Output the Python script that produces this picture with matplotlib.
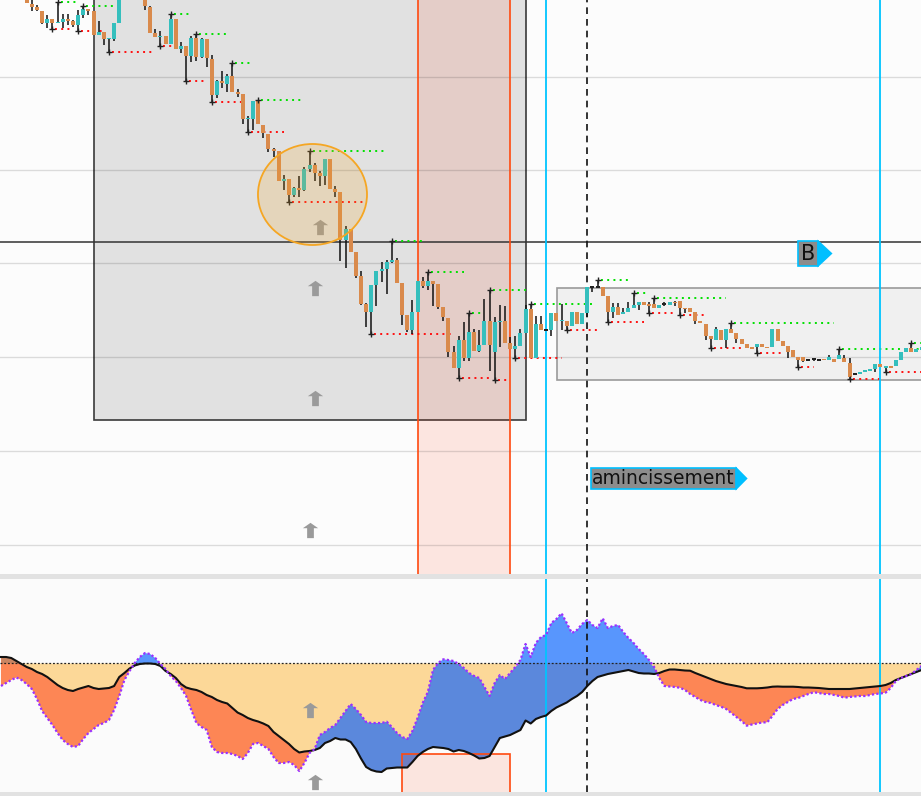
import numpy as np
import matplotlib.pyplot as plt
from matplotlib.patches import Rectangle, Ellipse, Polygon
from matplotlib.path import Path
from matplotlib.transforms import IdentityTransform

# candles, one per bar (bar 0 is the first fully visible one on the left)
open_ = [603, 596.5, 593, 589, 577, 581, 577, 578, 581, 579,
         575, 585, 591, 589, 565, 568, 561, 561, 577, 610,
         630, 640, 630, 608, 593, 567, 563, 564, 556, 581,
         551, 554, 544, 562, 543, 561, 541, 505, 519, 516,
         524, 508, 506, 481, 481, 500, 475, 466, 451, 449,
         419, 421, 405, 412, 410, 431, 435, 427, 424, 441,
         411, 408, 360, 371, 348, 324, 296, 288, 315, 329,
         331, 338, 340, 317, 285, 270, 288, 319, 314, 319,
         316, 293, 282, 248, 232, 260, 242, 268, 249, 255,
         279, 248, 278, 279, 257, 251, 254, 267, 291, 242,
         276, 270, 270, 287, 279, 279, 274, 288, 276, 287,
         313, 313, 313, 304, 288, 293, 286, 288, 292, 295,
         298, 296, 296, 292, 296, 295, 298, 299, 292, 292,
         288, 279, 276, 264, 260, 270, 260, 271, 267, 261,
         256, 253, 253, 256, 253, 253, 271, 259, 254, 250,
         243, 243, 240, 241, 240, 241, 240, 241, 241, 242,
         237, 226, 226, 228, 229, 231, 236, 232, 234, 234,
         240, 248, 252, 248, 250]
high = [608, 602, 595, 589, 585, 581, 598, 586, 586, 580,
        590, 594, 591, 589, 579, 568, 562.3, 577, 612, 635,
        645, 648, 632, 610, 594, 571, 569, 564, 586, 581,
        558, 554, 564, 566, 562, 561, 545, 520, 529, 526,
        537, 511, 506, 484, 499, 500, 475, 466, 452, 449,
        425, 421, 413, 424, 433, 449, 437, 429, 441, 441,
        414, 408, 374, 371, 348, 329, 297, 315, 329, 338,
        340, 359, 342, 317, 285, 300, 319, 323, 328, 319,
        316, 293, 282, 254, 264, 278, 287, 271, 270, 301,
        310, 283, 295, 294, 263, 264, 271, 295, 296, 284,
        284, 270.5, 287, 287, 296, 279, 288, 288, 287, 313,
        313, 320, 313, 304, 297, 297, 292, 298, 307, 298,
        298, 298, 302, 295, 298, 298, 299, 299, 292, 292,
        288, 279, 276, 264, 273, 270, 271, 277, 267, 261,
        256, 253, 256, 256, 253, 271, 271, 259, 254, 250,
        243, 243, 241, 242, 241, 241, 245, 241, 251, 245,
        242, 227, 228, 230, 231, 236, 236, 234, 234, 240,
        248, 252, 257, 251, 253]
low = [597, 589, 589, 576.5, 572, 571, 577, 572, 575, 573,
       569, 582, 585, 565, 565, 555, 548, 559, 577, 608,
       625, 625, 605, 590, 567, 563, 554, 556, 556, 551,
       547, 519, 538, 539, 542, 533, 498, 502, 512, 508,
       508, 503, 476, 468, 470, 476, 462, 448, 443, 419,
       410, 398, 403, 403, 409, 428, 419, 414, 415, 411,
       403, 339, 332, 348, 322, 295, 273, 266, 294, 318,
       306, 337, 317, 275, 268, 266, 288, 312, 310, 294,
       291, 279, 243, 232, 222, 239, 239, 249, 248, 255,
       229, 220, 253, 257, 251, 242, 254, 267, 242, 242,
       270, 269.5, 264, 279, 270, 270, 274, 276, 276, 283,
       308, 313, 304, 278, 282, 285, 286, 288, 292, 290,
       295, 287, 292, 292, 294, 295, 294, 285, 287, 288,
       276, 277, 260, 252, 260, 260, 252, 267, 257, 256,
       252, 251, 247, 253, 252, 253, 259, 254, 242, 243,
       233, 238, 239, 239.5, 239, 240, 240, 238, 241, 238,
       221, 225, 226, 228, 229, 228, 233, 228, 232, 234,
       240, 248, 248, 248, 250]
close = [597, 593, 590, 577, 581, 577, 578, 581, 579, 575,
         585, 591, 589, 565, 568, 561, 562.3, 577, 610, 630,
         640, 630, 608, 594, 567, 563, 564, 556, 581, 551,
         554, 544, 562, 543, 561, 542, 505, 519, 517, 524,
         508, 506, 481, 481.7, 499, 476, 467, 451, 449, 419,
         421, 405, 412, 410, 431, 435, 427, 424, 441, 411,
         408, 360, 371, 348, 324, 296, 288, 315, 329, 331,
         338, 340, 317, 285, 270, 288, 319, 314, 319, 316,
         293, 283, 248, 232, 260, 242, 268, 249, 255, 279,
         255, 278, 279, 257, 251, 254, 267, 291, 242, 276,
         270, 270, 287, 279, 280, 274, 288, 276, 287, 313,
         313, 313, 304, 288, 293, 285, 288, 292, 295, 298,
         295, 294, 292, 295, 296, 298, 297, 292, 291, 288,
         279, 277, 264, 261, 271, 260, 271, 267, 261, 256,
         252, 251, 256, 253, 252.5, 271, 259, 254, 248, 243,
         240, 239, 240, 241, 240, 240, 243, 238, 245, 238,
         223, 226, 228, 230, 231, 236, 233, 234, 232, 240,
         248, 252, 248, 251, 253]

# swing points: (bar, number of bars the dotted level runs to the right)
swing_highs = [(6, 4), (11, 6), (28, 4), (33, 6), (40, 4), (45, 9), (55, 15),
               (71, 6), (78, 7), (86, 3), (90, 7), (98, 12), (111, 6), (118, 3),
               (122, 14), (137, 20), (158, 17), (172, 3)]
swing_lows = [(5, 4), (10, 5), (16, 9), (26, 4), (31, 4), (36, 6), (43, 7),
              (51, 15), (67, 16), (84, 6), (91, 3), (95, 9), (105, 6), (113, 7),
              (121, 5), (127, 5), (133, 6), (142, 5), (150, 3), (160, 6), (167, 7)]

# lower panel, bars -5 .. 174
osc_bars = list(range(-5, 175))
signal = [6, 6, 5, 2, -1,
          -4, -6, -9, -11, -14, -18, -22, -25, -27, -28,
          -26, -24.5, -23, -25, -26, -25.5, -25, -23, -14, -10,
          -5.5, -2.5, -1, -0.5, -0.5, -1, -3, -8, -11, -15,
          -21, -24.5, -26, -27, -29, -32, -34, -37, -39, -40.5,
          -45, -49.5, -52, -55, -57, -58.5, -60.5, -63, -69, -73,
          -77, -81, -86, -89.5, -88.5, -88, -87, -85, -80, -78,
          -75, -76.5, -76.5, -79, -86, -95.5, -104, -107, -108.5, -109,
          -105.5, -105, -104.5, -104.5, -104.5, -99, -93, -89, -86, -84,
          -84.5, -85, -86, -88.5, -87, -88, -90, -92.5, -95.5, -95,
          -93, -84, -75, -73.5, -72, -69.5, -67, -57.5, -60.5, -56,
          -54, -52.5, -48, -44.5, -42, -39.5, -36, -33, -29, -23,
          -18, -14, -12.5, -11, -10, -9, -8, -7, -8.5, -10,
          -10.5, -10.5, -11, -10, -8, -6.5, -6.5, -7, -7.5, -7.7,
          -10, -12, -14, -16, -18, -19.5, -21, -22, -23, -24,
          -25.3, -25.3, -25.3, -25, -24.5, -23.7, -23.5, -23.7, -23.7, -23.7,
          -24, -24.5, -24.5, -24.7, -25, -25.5, -26, -26, -26, -26,
          -26, -25.5, -25, -24.5, -24, -23.5, -23, -22, -20, -17,
          -15, -13, -11, -9, -7]
oscillator = [-23, -20, -17, -14.5, -17,
              -21, -26, -36, -48, -55, -62, -70, -77, -81, -84,
              -83, -76, -70, -66, -62, -60, -57, -47, -33, -17,
              -8, 0, 6, 10, 9, 5, -1, -6, -13, -18,
              -25, -33, -47, -60, -64, -67, -84, -89, -90, -90,
              -91, -93, -96, -90, -81, -80, -83, -86, -94, -100,
              -100, -99, -102, -108, -100, -90, -86, -72, -69, -65,
              -62, -55, -48, -41, -46, -52, -59, -60, -60, -60,
              -58.7, -64, -70, -74, -76, -68, -55, -40, -29, -7,
              0, 3.7, 3, 2, -1, -5, -10, -13, -15, -24,
              -33, -20, -12, -16, -10, -4, 3, 19, 6, 20,
              26, 28, 40, 44, 49.7, 40, 30, 33, 39, 43,
              38, 35, 44.7, 35, 37, 38, 31, 25, 20, 14,
              9, 3, -4, -15, -23, -23.5, -24, -24.7, -27, -31,
              -34, -37, -39, -40, -42, -43.7, -46, -50, -54, -58,
              -62.7, -61.5, -60.5, -59.5, -59.3, -53, -46, -42, -39, -36,
              -35, -33, -31, -29.3, -30, -31, -31, -32, -33, -34.7,
              -34, -33.5, -33, -33, -32, -31, -30.5, -29.7, -25, -18,
              -15, -13, -11, -7, -3]

UP = "#35bfbd"
DOWN = "#d98a4c"
CYAN = "#00c4ff"

fig = plt.figure(figsize=(9.21, 7.96), dpi=100, facecolor="#e2e2e2")
ax = fig.add_axes([0, 1 - 574 / 796, 1, 574 / 796])
ax2 = fig.add_axes([0, 4 / 796, 1, 213 / 796])
for a in (ax, ax2):
    a.set_xlim(-5.19, 173.89)
    a.set_xticks([])
    a.set_yticks([])
    for s in a.spines.values():
        s.set_visible(False)
ax.set_facecolor("#fcfcfc")
ax.set_ylim(26, 600)
ax2.set_facecolor("#fbfbfb")
ax2.set_ylim(-129, 84)

# ---------------- price panel ----------------
for lvl in [55, 149, 243, 337, 430, 523]:
    ax.axhline(lvl, color="black", alpha=0.13, lw=1, zorder=1.5)

ax.add_patch(Rectangle((13.09, 180), 84.0, 500, fc="#e1e1e1", ec="#3a3a3a", lw=1.2, zorder=1))
ax.add_patch(Rectangle((103.11, 220), 80, 92, fc="#f0f0f0", ec="#9a9a9a", lw=1.2, zorder=1))
ax.axvspan(76.08, 93.97, fc="#ff3300", alpha=0.11, lw=0, zorder=1.2)
for xv in (76.08, 93.97):
    ax.axvline(xv, color="#ff4a10", lw=1.2, zorder=2.4)
ax.axhline(358, color="#333333", lw=1.1, zorder=2)

x = np.arange(len(close))
o, h, l, c = map(np.array, (open_, high, low, close))
colors = np.where(c > o, UP, np.where(c < o, DOWN, "#222222"))
ax.vlines(x, l, h, color="#111111", lw=1.1, zorder=3)
body = np.maximum(np.abs(c - o), 1.3)
bottom = np.minimum(o, c) - (body - np.abs(c - o)) / 2
ax.bar(x, body, bottom=bottom, width=0.76, color=colors, lw=0, zorder=3.2)

for i, n in swing_highs:
    ax.plot([i + 0.6, i + n], [high[i]] * 2, color="#00e000", lw=1.4, ls=(0, (1, 2.2)), zorder=2.5)
    ax.plot(i, high[i], marker="+", color="#222222", ms=5, mew=1, zorder=3.5)
for i, n in swing_lows:
    ax.plot([i + 0.6, i + n], [low[i]] * 2, color="#ff1010", lw=1.4, ls=(0, (1, 2.2)), zorder=2.5)
    ax.plot(i, low[i], marker="+", color="#222222", ms=5, mew=1, zorder=3.5)

ax.add_patch(Ellipse((55.57, 405.5), 21.2, 101, fc=(0.96, 0.65, 0.14, 0.2), ec="#f5a623", lw=1.3, zorder=4))

# ---------------- oscillator panel ----------------
xb = np.array(osc_bars)
sig = np.array(signal)
osc = np.array(oscillator)
zero = np.zeros_like(sig)
ax2.fill_between(xb, zero, sig, where=sig < 0, interpolate=True, color="#fcd898", lw=0, zorder=1)
ax2.fill_between(xb, sig, osc, where=osc < sig, interpolate=True, color="#fd8655", lw=0, zorder=1)
ax2.fill_between(xb, zero, sig, where=(sig > 0) & (osc < sig), interpolate=True, color="#c98562", lw=0, zorder=1.05)
lo_blue = np.minimum(osc, 0)
ax2.fill_between(xb, sig, lo_blue, where=lo_blue > sig, interpolate=True, color="#5b88dc", lw=0, zorder=1.1)
hi_base = np.maximum(sig, 0)
ax2.fill_between(xb, hi_base, osc, where=osc > hi_base, interpolate=True, color="#5896fd", lw=0, zorder=1.1)
ax2.axhline(0, color="#222222", lw=0.9, ls=(0, (1.5, 1.5)), zorder=2.5)
ax2.plot(xb, sig, color="#111111", lw=1.5, zorder=3)
ax2.plot(xb, osc, color="#9b30ff", lw=1.6, ls=(0, (1, 1)), zorder=3)
ax2.add_patch(Rectangle((72.97, -140), 21.0, 49, fc=(1, 0.2, 0, 0.11), ec="#ff4a10", lw=1.2, zorder=2))

# ---------------- shared markers ----------------
for a in (ax, ax2):
    for xv in (100.97, 165.9):
        a.axvline(xv, color=CYAN, lw=1.3, zorder=2.6)
    a.axvline(108.95, color="#111111", lw=1.2, ls=(0, (4, 3)), zorder=2.6)

verts = [(0, .5), (.5, .15), (.22, .15), (.22, -.5), (-.22, -.5), (-.22, .15), (-.5, .15), (0, .5)]
arrow = Path(verts, [Path.MOVETO] + [Path.LINETO] * 6 + [Path.CLOSEPOLY])
for xa, ya in [(57.0, 373.5), (56.05, 312), (56.05, 202), (55.1, 70)]:
    ax.plot(xa, ya, marker=arrow, ms=11, color="#9a9a9a", mew=0, zorder=3.6)
for xa, ya in [(55.1, -47), (56.05, -119)]:
    ax2.plot(xa, ya, marker=arrow, ms=11, color="#9a9a9a", mew=0, zorder=3.6)

t1 = ax.text(109.9, 121.5, "amincissement", fontsize=13.5, color="#111111", ha="left", va="center",
             zorder=6, bbox=dict(boxstyle="square,pad=0.06", fc="#8c8c8c", ec="#00bfff", lw=1.2))
t2 = ax.text(151.9, 346.5, "B", fontsize=15, color="#111111", ha="center", va="center",
             zorder=6, bbox=dict(boxstyle="square,pad=0.12", fc="#8c8c8c", ec="#00bfff", lw=1.2))
fig.canvas.draw()
for t, w in ((t1, 12), (t2, 15)):
    bb = t.get_bbox_patch().get_window_extent()
    mid = (bb.y0 + bb.y1) / 2
    tri = Polygon([(bb.x1, bb.y0 - 1.5), (bb.x1 + w, mid), (bb.x1, bb.y1 + 1.5)], closed=True,
                  fc="#00bfff", ec="none", transform=IdentityTransform(), zorder=6)
    fig.add_artist(tri)

fig.savefig("out.png", dpi=100, facecolor=fig.get_facecolor())
